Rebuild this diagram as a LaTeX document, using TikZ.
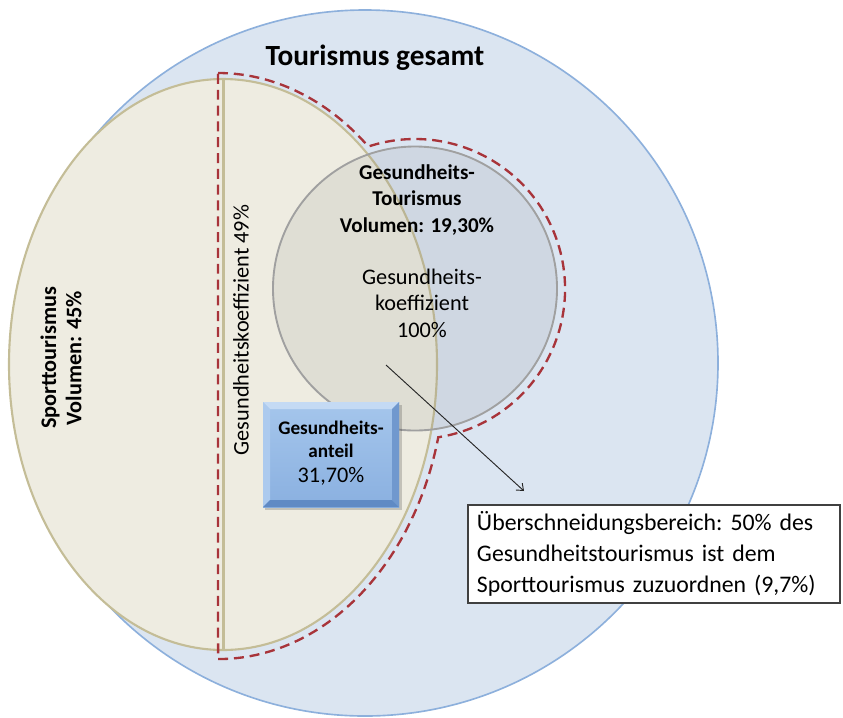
\documentclass[tikz,border=0pt]{standalone}
\usepackage{fontspec}
\setmainfont{Carlito}
\usetikzlibrary{arrows.meta}

\definecolor{totalfill}{RGB}{219,229,241}
\definecolor{totaledge}{RGB}{141,176,220}
\definecolor{sportfill}{RGB}{238,236,225}
\definecolor{sportedge}{RGB}{196,189,151}
\definecolor{healthedge}{RGB}{160,160,160}
\definecolor{overlapred}{RGB}{168,52,58}
\definecolor{facetop}{RGB}{165,198,236}
\definecolor{facebot}{RGB}{138,176,224}
\definecolor{bevellight}{RGB}{196,218,244}
\definecolor{bevelmid}{RGB}{172,202,238}
\definecolor{beveldark}{RGB}{112,152,206}
\definecolor{beveldeep}{RGB}{96,138,196}

\tikzset{
  titletext/.style={font=\bfseries\fontsize{25}{30}\selectfont, inner sep=0pt},
  boldlabel/.style={font=\bfseries\fontsize{18}{22.5}\selectfont, align=center, inner sep=0pt},
  sportlabel/.style={font=\bfseries\fontsize{19}{21.5}\selectfont, align=center, inner sep=0pt},
  plainlabel/.style={font=\fontsize{19}{22.5}\selectfont, align=center, inner sep=0pt},
  sharebold/.style={font=\bfseries\fontsize{16.4}{20}\selectfont, inner sep=0pt},
  sharenum/.style={font=\fontsize{19}{22}\selectfont, inner sep=0pt},
  dashoutline/.style={draw=overlapred, line width=2pt, dash pattern=on 8.5pt off 5pt},
  notebox/.style={draw=black!75, line width=0.9pt, fill=white, align=left,
    font=\frenchspacing\fontsize{20.3}{26.3}\selectfont, minimum width=11.16cm, minimum height=2.94cm,
    text width=10.62cm, inner xsep=0.27cm, inner ysep=0pt},
}

\begin{document}
\begin{tikzpicture}[x=0.03cm, y=-0.03cm]
  \useasboundingbox (0,0) rectangle (843,717);

  % total tourism
  \fill[totalfill] (365,363) circle (353);
  \draw[totaledge, line width=1.4pt] (365,363) circle (353);

  % sports tourism ellipse with its dividing chord
  \fill[sportfill] (223,364.5) ellipse [x radius=214, y radius=285.5];
  \draw[sportedge, line width=1.8pt] (223,364.5) ellipse [x radius=214, y radius=285.5];
  \draw[sportedge, line width=1.8pt] (223.5,79) -- (223.5,650);

  % health tourism circle (translucent)
  \fill[gray, fill opacity=0.13] (415,288.5) circle (142);
  \draw[healthedge, line width=1.6pt] (415,288.5) circle (142);

  % dashed outline of the health-related share
  \draw[dashoutline]
    (218,73) arc[start angle=-90, end angle=-48.52, x radius=227, y radius=293]
    arc[start angle=-108.15, end angle=81.1, radius=150]
    arc[start angle=14.06, end angle=90, x radius=227, y radius=293]
    -- cycle;

  % labels
  \node[titletext] (title) at (375,58) {Tourismus gesamt};
  \node[sportlabel, rotate=90] (sport) at (61,358) {Sporttourismus\\Volumen: 45\%};
  \node[plainlabel, rotate=90] (coef49) at (241,330) {Gesundheitskoeffizient 49\%};
  \node[boldlabel] (health) at (417,200) {Gesundheits-\\Tourismus\\Volumen: 19,30\%};
  \node[plainlabel] (coef100) at (422,303) {Gesundheits-\\koeffizient\\100\%};

  % bevelled share box
  \fill[black, opacity=0.18] (265,405) rectangle (402,510);
  \shade[top color=facetop, bottom color=facebot] (263,402) rectangle (399,507);
  \fill[bevellight] (263,402) -- (399,402) -- (392,409) -- (270,409) -- cycle;
  \fill[bevelmid] (263,402) -- (270,409) -- (270,500) -- (263,507) -- cycle;
  \fill[beveldark] (399,402) -- (399,507) -- (392,500) -- (392,409) -- cycle;
  \fill[beveldeep] (263,507) -- (399,507) -- (392,500) -- (270,500) -- cycle;
  \node[sharebold] (share1) at (331,428) {Gesundheits-};
  \node[sharebold] (share2) at (331,451) {anteil};
  \node[sharenum] (share3) at (331,476) {31,70\%};

  % note and pointer
  \node[notebox] (note) at (654,554)
    {Überschneidungsbereich: 50\% des\\Gesundheitstourismus ist dem\\Sporttourismus zuzuordnen (9,7\%)};
  \coordinate (pfrom) at (386,365);
  \coordinate (pto) at (524,491);
  \draw[black!85, line width=0.8pt, -{Straight Barb[length=5pt, width=8pt]}] (pfrom) -- (pto);
\end{tikzpicture}
\end{document}
